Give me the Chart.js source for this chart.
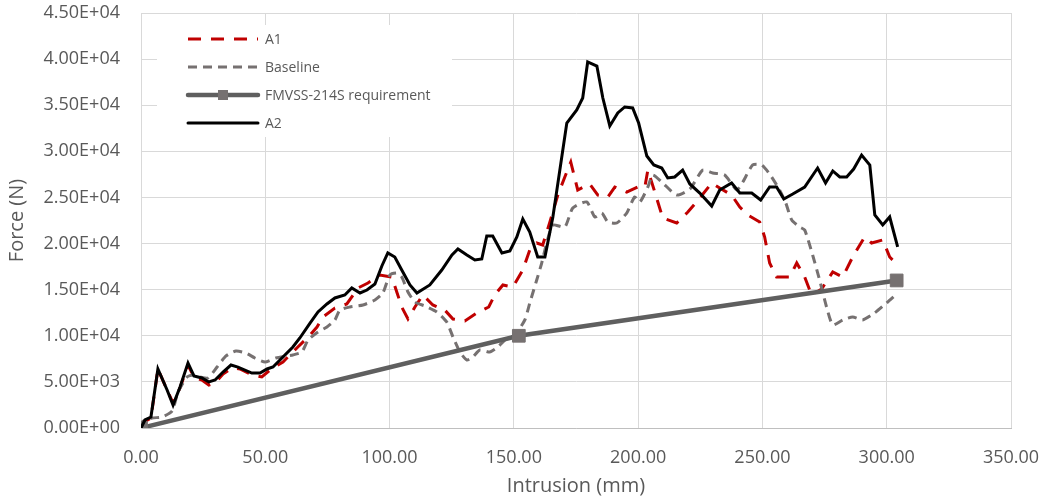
<!DOCTYPE html>
<html>
<head>
<meta charset="utf-8">
<script src="https://cdn.jsdelivr.net/npm/chart.js@4"></script>
<style>
  html, body { margin: 0; padding: 0; background: #fff; }
  #wrap { width: 1046px; height: 499px; }
</style>
</head>
<body>
<div id="wrap"><canvas id="myChart" width="1046" height="499"></canvas></div>
<script>
// intrusion (mm) / force (N)
const a1X = [0,2.0,4.0,6.8,10.5,12.9,15.7,18.9,21.3,24.5,27.3,29.8,33.0,36.6,39.8,44.6,48.6,51.9,57.1,63.1,
  68.0,70.8,73.2,78.0,82.8,87.3,91.3,96.1,100.9,102.9,104.9,107.4,110.2,113.4,117.4,122.2,125.5,130.3,135.1,139.9,
  142.3,145.6,149.6,153.6,156.4,159.2,161.6,164.5,167.7,170.5,172.9,175.7,180.5,183.8,187.8,190.6,195.4,199.8,202.7,203.9,
  206.7,209.9,215.5,220.0,224.8,229.6,232.8,237.6,240.9,244.1,248.9,250.9,252.9,255.7,261.0,263.8,267.0,269.8,273.8,278.3,
  282.3,286.3,291.1,293.9,298.4,301.2,303.2];
const a1Y = [0,760,1080,6400,4120,2710,4340,6830,5530,5200,4660,4880,5860,6510,6400,5750,5530,6290,7160,8780,
  10080,10950,12040,13010,13450,15180,15720,16590,16370,14750,13120,11820,13120,14420,13340,12790,11820,11600,12470,13120,
  14420,15510,15290,17130,19300,20060,19840,22340,25260,27220,28840,25810,26460,25260,25050,26130,25590,26130,26130,27970,
  25590,22770,22230,23420,24940,26570,26020,25260,23960,23100,22340,20710,17890,16370,16370,17890,16370,14420,15070,16920,
  16370,18540,20710,20060,20390,18540,18000];

const baseX = [0,0.4,4.4,8.4,12.5,14.9,18.5,20.9,23.7,27.0,30.6,34.2,38.2,42.2,45.8,49.9,54.3,58.7,61.1,64.7,
  67.2,71.2,74.8,78.0,80.0,84.0,89.3,94.1,97.3,100.1,102.9,104.9,107.4,110.2,114.2,119.0,123.0,125.5,128.3,131.1,
  133.5,136.3,140.3,143.6,146.4,150.4,154.4,156.4,159.2,161.2,163.3,165.7,170.5,173.7,179.3,182.6,185.4,187.8,191.4,195.4,
  198.6,200.7,203.9,205.9,209.9,215.5,220.8,226.0,230.0,234.8,239.7,242.1,246.1,249.7,252.9,256.9,259.4,261.8,265.0,267.0,
  270.2,273.0,275.8,278.3,282.3,286.3,290.3,295.1,299.9,304.4];
const baseY = [0,650,1080,1190,1840,3900,5530,5750,5530,5420,6610,7810,8350,8130,7590,7160,7590,7810,7920,8240,
  9540,10410,10950,11710,12790,13120,13340,13880,14640,16590,16810,16370,14750,13660,13230,12580,11490,9870,8240,7370,
  7700,8460,8240,8780,9540,10080,11710,13550,16050,17890,20170,22010,21790,23850,24510,22880,23310,22340,22230,23310,
  25050,24510,26130,27430,26570,25260,25910,27970,27650,27430,25810,26670,28520,28520,27540,25810,24400,22550,21790,21470,
  18760,16050,13120,11170,11710,12040,11710,12470,13550,14640];

const fmvssX = [0, 152, 304];
const fmvssY = [0, 10000, 16000];

const a2X = [0,1.6,4.0,6.8,10.5,12.9,15.7,18.9,21.3,24.5,27.3,29.8,33.0,36.2,39.0,44.6,47.9,50.7,53.1,56.7,
  61.1,63.9,68.0,71.2,74.8,78.0,82.0,84.8,88.1,90.9,94.1,96.9,99.3,102.1,104.9,108.2,111.0,116.2,121.0,125.1,
  127.5,131.1,134.3,137.1,139.1,141.5,145.2,148.4,151.2,153.6,156.4,159.6,162.5,165.7,171.3,175.3,177.7,179.7,183.4,185.8,
  188.6,191.8,194.6,197.8,200.2,203.5,206.3,209.5,211.9,214.7,217.9,220.8,224.8,229.6,232.8,237.6,240.9,245.7,249.3,252.9,
  255.7,258.6,262.2,267.0,272.2,275.4,278.3,281.1,283.9,286.7,289.9,293.2,295.2,298.4,301.2,304.4];
const a2Y = [0,870,1190,6400,4120,2490,4450,7050,5640,5420,4990,5200,6070,6830,6610,5960,5960,6400,6610,7590,
  8780,9760,11380,12580,13450,14100,14420,15180,14640,14960,15610,17570,18980,18540,17130,15510,14640,15510,17130,18760,
  19410,18760,18220,18330,20820,20820,18980,19190,20710,22660,21250,18540,18540,22880,33070,34480,35780,39690,39250,35780,
  32750,34160,34810,34700,33070,29490,28520,28190,27110,27220,27970,26460,25480,24070,25810,26570,25480,25480,24720,26130,
  26130,24830,25370,26130,28190,26570,27870,27220,27220,28080,29600,28520,23100,22010,22880,19630];

const xMin = 0, xMax = 350, xStep = 50;
const yMin = 0, yMax = 45000, yStep = 5000;

const FONT = "'Open Sans', sans-serif";
const TEXT = '#595959';

const pts = (xs, ys) => xs.map((x, i) => ({ x: x, y: ys[i] }));

const sciLabel = v => {
  const parts = Number(v).toExponential(2).split('e');
  const e = parseInt(parts[1], 10);
  return parts[0] + 'E' + (e < 0 ? '-' : '+') + String(Math.abs(e)).padStart(2, '0');
};

// legend box sitting inside the plot, top left (covers gridlines only)
const insideLegend = {
  id: 'insideLegend',
  beforeDatasetsDraw(chart) {
    const { ctx, chartArea } = chart;
    const bx = chartArea.left + 16, by = chartArea.top + 12;
    ctx.save();
    ctx.fillStyle = '#fff';
    ctx.fillRect(bx, by, 295, 112);

    const x0 = chartArea.left + 47, x1 = chartArea.left + 117;
    const rows = chart.data.datasets.slice().sort((a, b) => a.legendRow - b.legendRow);
    rows.forEach((ds, i) => {
      const y = by + 14 + i * 28;
      ctx.beginPath();
      ctx.strokeStyle = ds.borderColor;
      ctx.lineWidth = ds.borderWidth;
      ctx.lineCap = ds.borderDash ? 'butt' : 'round';
      ctx.setLineDash(ds.borderDash || []);
      ctx.moveTo(x0, y);
      ctx.lineTo(x1, y);
      ctx.stroke();
      ctx.setLineDash([]);
      if (ds.pointRadius > 0) {
        ctx.fillStyle = ds.pointBackgroundColor;
        ctx.fillRect((x0 + x1) / 2 - 5, y - 5, 10, 10);
      }
      ctx.fillStyle = TEXT;
      ctx.font = '14px ' + FONT;
      ctx.textAlign = 'left';
      ctx.textBaseline = 'middle';
      ctx.fillText(ds.label, x1 + 7, y + 1);
    });
    ctx.restore();
  }
};

const ctx = document.getElementById('myChart');

new Chart(ctx, {
  type: 'line',
  data: {
    datasets: [
      {
        label: 'A2',
        legendRow: 3,
        data: pts(a2X, a2Y),
        borderColor: '#000000',
        borderWidth: 3,
        pointRadius: 0,
        tension: 0,
        order: 0
      },
      {
        label: 'FMVSS-214S requirement',
        legendRow: 2,
        data: pts(fmvssX, fmvssY),
        borderColor: '#5f5f5f',
        borderWidth: 4.5,
        pointStyle: 'rect',
        pointRadius: 9,
        pointBorderWidth: 1,
        pointBackgroundColor: '#767171',
        pointBorderColor: '#767171',
        tension: 0,
        order: 1
      },
      {
        label: 'Baseline',
        legendRow: 1,
        data: pts(baseX, baseY),
        borderColor: '#767171',
        borderWidth: 3,
        borderDash: [9, 6],
        pointRadius: 0,
        tension: 0.2,
        order: 2
      },
      {
        label: 'A1',
        legendRow: 0,
        data: pts(a1X, a1Y),
        borderColor: '#c00000',
        borderWidth: 3,
        borderDash: [13, 10],
        pointRadius: 0,
        tension: 0,
        order: 3
      }
    ]
  },
  options: {
    responsive: false,
    animation: false,
    layout: { padding: { left: 0, right: 35, top: 13, bottom: 0 } },
    plugins: {
      legend: { display: false },
      tooltip: { enabled: false }
    },
    scales: {
      x: {
        type: 'linear',
        min: xMin,
        max: xMax,
        grid: { color: '#d9d9d9', drawTicks: false },
        border: { display: true, color: '#bfbfbf', width: 1 },
        ticks: {
          stepSize: xStep,
          padding: 19,
          color: TEXT,
          font: { size: 18, family: FONT },
          maxRotation: 0,
          callback: v => Number(v).toFixed(2)
        },
        title: {
          display: true,
          text: 'Intrusion (mm)',
          color: TEXT,
          font: { size: 20, family: FONT },
          padding: { top: 0, bottom: 1 }
        },
        afterFit(scale) {
          scale.height = 71;
          scale.paddingLeft = 0;
          scale.paddingRight = 0;
        }
      },
      y: {
        min: yMin,
        max: yMax,
        grid: { color: '#d9d9d9', drawTicks: false },
        border: { display: true, color: '#d9d9d9', width: 1 },
        ticks: {
          stepSize: yStep,
          padding: 21,
          color: TEXT,
          font: { size: 18, family: FONT },
          callback: v => sciLabel(v)
        },
        title: {
          display: true,
          text: 'Force (N)',
          color: TEXT,
          font: { size: 20, family: FONT },
          padding: { top: 5, bottom: 0 }
        },
        afterFit(scale) {
          scale.width = 141;
          scale.paddingTop = 0;
          scale.paddingBottom = 0;
        }
      }
    }
  },
  plugins: [insideLegend]
});
</script>
</body>
</html>
